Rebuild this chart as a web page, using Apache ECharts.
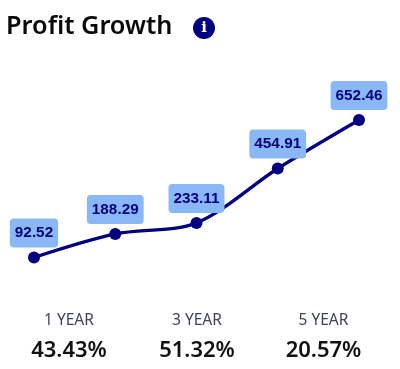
<!DOCTYPE html>
<html><head><meta charset="utf-8">
<style>html,body{margin:0;padding:0;background:#fff}#c{width:400px;height:369px}</style>
<script src="https://cdn.jsdelivr.net/npm/echarts@6/dist/echarts.min.js"></script>
</head><body><div id="c"></div>
<script>
const titleText = 'Profit Growth';
const categories = ['A', 'B', 'C', 'D', 'E'];
const profit = [92.52, 188.29, 233.11, 454.91, 652.46];
const periodLabels = ['1 YEAR', '3 YEAR', '5 YEAR'];
const growthLabels = ['43.43%', '51.32%', '20.57%'];
const statX = [69, 197, 323.5];
const NAVY = '#000080';
const chart = echarts.init(document.getElementById('c'), null, {renderer: 'canvas'});
const texts = [];
periodLabels.forEach((t, i) => texts.push({type: 'text', style: {text: t, x: statX[i], y: 320.5, align: 'center', verticalAlign: 'middle', font: '15.5px "Noto Sans"', fill: '#3a4560'}}));
growthLabels.forEach((t, i) => texts.push({type: 'text', style: {text: t, x: statX[i], y: 351, align: 'center', verticalAlign: 'middle', font: '600 22px "Noto Sans"', fill: '#111'}}));
chart.setOption({
  animation: false,
  backgroundColor: '#fff',
  grid: {left: 34, width: 325, top: 108.3, height: 171.9},
  xAxis: {type: 'category', data: categories, boundaryGap: false, show: false},
  yAxis: {type: 'value', min: 0, max: 700, show: false},
  series: [{
    type: 'line', data: profit, smooth: 0.3,
    symbol: 'circle', symbolSize: 12,
    lineStyle: {color: NAVY, width: 3.3},
    itemStyle: {color: NAVY},
    label: {
      show: true, position: 'top', distance: 4,
      formatter: p => p.value.toFixed(2),
      fontFamily: 'Liberation Sans', fontWeight: 'bold', fontSize: 15.3, color: NAVY,
      backgroundColor: '#8ab8f6', borderRadius: 4, padding: [7, 5, 7, 5]
    }
  }],
  graphic: [
    {type: 'text', style: {text: titleText, x: 6, y: 27, verticalAlign: 'middle', font: '600 25.3px "Noto Sans"', fill: '#0a0a0a'}},
    {type: 'circle', shape: {cx: 204, cy: 28, r: 11}, style: {fill: NAVY}},
    {type: 'text', style: {text: 'i', x: 204, y: 28, align: 'center', verticalAlign: 'middle', font: 'bold 15px "DejaVu Serif"', fill: '#fff'}},
    ...texts
  ]
});
</script></body></html>
